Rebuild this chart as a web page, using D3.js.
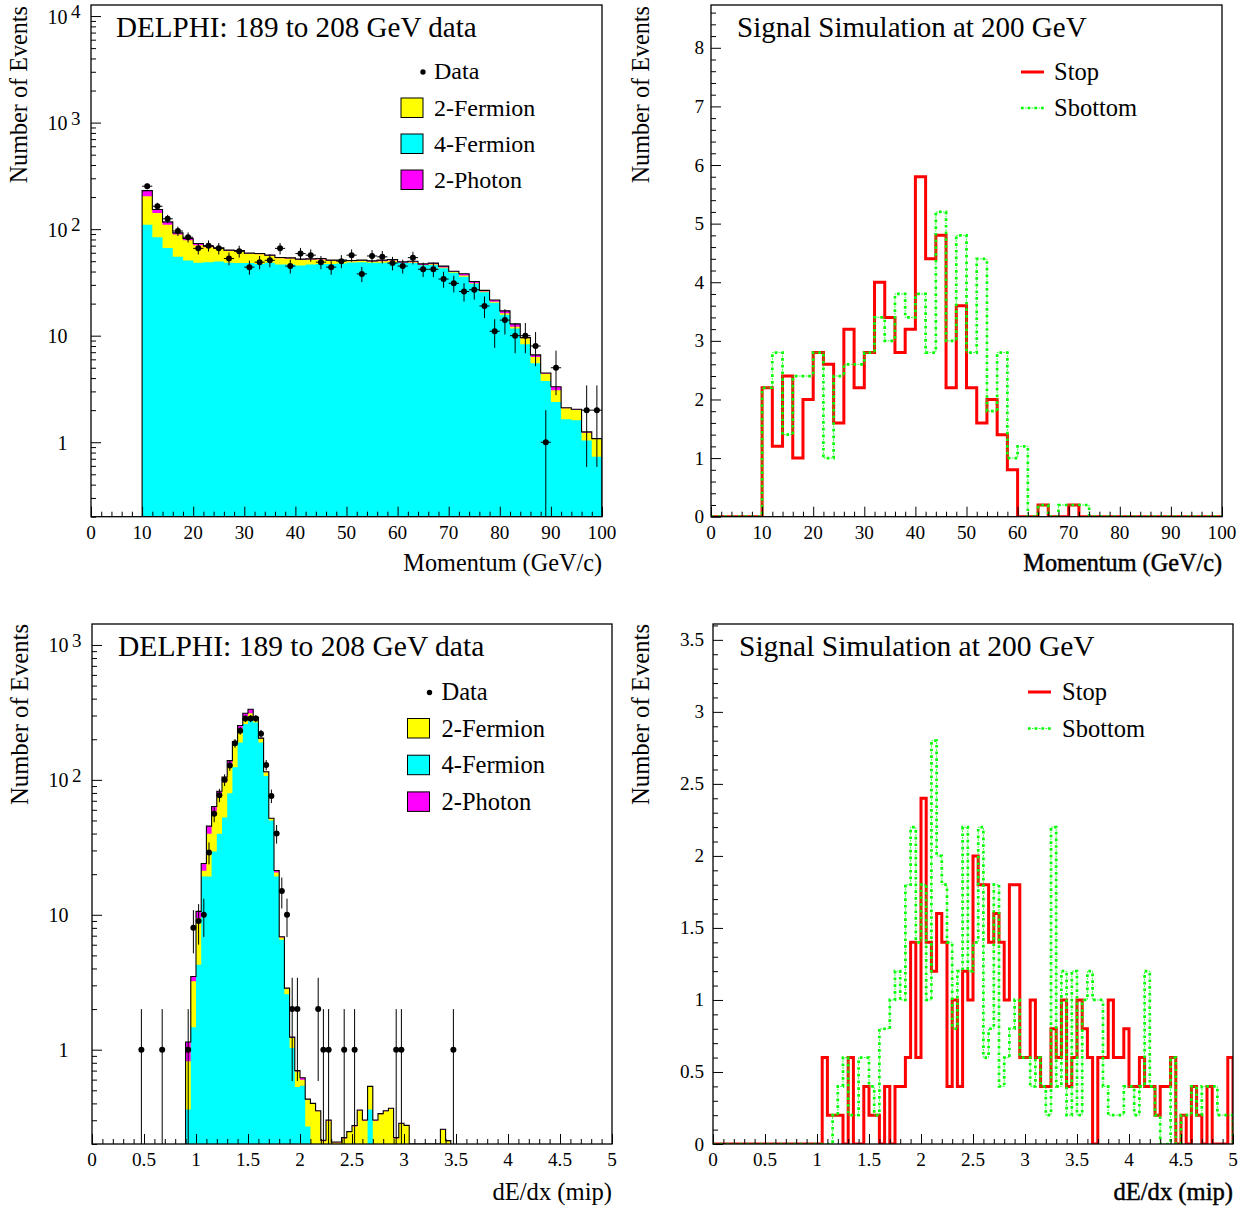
<!DOCTYPE html>
<html>
<head>
<meta charset="utf-8">
<script src="https://cdn.jsdelivr.net/npm/d3@7"></script>
<style>
    html, body { margin: 0; padding: 0; background: white; }
    svg { display: block; }
    text { font-family: "Liberation Serif", serif; fill: black; }
</style>
</head>
<body>
<div id="chart"></div>
<script>
// momentum, background stack (2 GeV bins from 10 GeV), tops of each layer
const momCyan = [110, 84, 66.7, 55, 50.8, 48.3, 49, 49.7, 48.3, 48, 48, 47.2, 48.3, 46.6, 46.6, 45.6, 46.6, 47.2, 47.2, 47.6, 48.6, 49, 48.3,
    48.3, 49, 48.3, 48, 45.9, 46.2, 43, 38.9, 35.7, 30.7, 25.6, 20.4, 15.7, 11.7, 8.3, 5.5, 3.76, 2.39, 1.64, 1.61, 1.04, 0.73];
const momYellow = [204, 142, 110, 89, 78.8, 70.7, 67.7, 65.3, 62.5, 61.7, 58.6, 58.2, 56.1, 53.4, 53, 51.5, 51.9, 51.9, 50.4, 50.4, 50, 50.4, 49.7,
    50, 50.8, 48.3, 49, 46.2, 46.9, 43.7, 39.5, 36.7, 31.1, 26, 20.8, 16.2, 12.1, 9.44, 6.3, 4.4, 3.07, 2.08, 2.01, 1.23, 1.07];
const momTotal = [230, 153, 117, 92.3, 81.6, 73.3, 69.2, 66.7, 63.5, 63, 59.5, 59, 57, 54.2, 53.8, 52.3, 52.6, 53, 51.2, 51.2, 50.8, 51.2, 50.4,
    51.2, 51.9, 49.3, 50, 47.2, 48, 45, 40.3, 38.1, 32.3, 26.6, 21.6, 17.1, 12.9, 9.6, 6.6, 4.47, 3.32, 2.11, 2.04, 1.25, 1.08];
const momCounts = [253, 164, 125, 96, 84, 66, 70, 66, 53, 62, 44, 49, 51, 66, 45, 59, 57, 49, 44, 50, 57, 38, 56,
    55, 48, 45, 54, 42, 42, 34, 31, 26, 27, 19, 11, 14, 10, 10, 8, 1, 5, 0, 0, 2, 2];

// momentum, signal (2 GeV bins from 0)
const stopMom = [0, 0, 0, 0, 0, 2.2, 1.2, 2.4, 1, 2, 2.8, 2.6, 1.6, 3.2, 2.2, 2.8, 4, 3.4, 2.8, 3.2, 5.8, 4.4, 4.8, 2.2, 3.6,
    2.2, 1.6, 2, 1.4, 0.8, 0, 0, 0.2, 0, 0, 0.2, 0, 0, 0, 0, 0, 0, 0, 0, 0, 0, 0, 0, 0, 0];
const sbottomMom = [0, 0, 0, 0, 0, 2.2, 2.8, 1.4, 2.4, 2.4, 2.8, 1, 2.4, 2.6, 2.6, 2.8, 3.4, 3, 3.8, 3.4, 3.8, 2.8, 5.2, 3, 4.8,
    2.8, 4.4, 1.8, 2.8, 1, 1.2, 0, 0.2, 0, 0.2, 0.2, 0.2, 0, 0, 0, 0, 0, 0, 0, 0, 0, 0, 0, 0, 0];

// dE/dx, background stack (0.05 bins from 0.9)
const dedxCyan = [0.36, 1.47, 4.26, 19.2, 19.2, 29.4, 39.8, 52.6, 79.6, 124, 189, 260, 275, 266, 189, 107, 50, 19.2, 6.53, 2.58, 1.03, 0.53, 0.54, 0.27,
    0, 0, 0, 0, 0, 0, 0, 0, 0, 0, 0, 0.36, 0, 0, 0, 0, 0, 0, 0, 0, 0, 0, 0, 0, 0, 0, 0];
const dedxYellow = [0.82, 3.21, 9.45, 21.2, 39.8, 58.9, 77.4, 95.5, 131, 187, 239, 298, 312, 275, 202, 114, 52, 20.6, 6.8, 2.84, 1.22, 0.69, 0.6, 0.43,
    0.395, 0.35, 0.21, 0.298, 0.205, 0.205, 0.22, 0.245, 0.27, 0.354, 0.298, 0.53, 0.298, 0.333, 0.35, 0.365, 0.22, 0.282, 0.272, 0, 0, 0, 0, 0, 0, 0.254, 0.21];
const dedxTotal = [1.14, 3.49, 10.6, 24, 45.4, 63.4, 82.4, 105, 139, 192, 253, 312, 334, 291, 204, 115, 52, 21.3, 6.87, 2.86, 1.24, 0.7, 0.62, 0.43,
    0.4, 0.353, 0.213, 0.301, 0.207, 0.207, 0.223, 0.247, 0.274, 0.357, 0.301, 0.535, 0.301, 0.336, 0.353, 0.368, 0.223, 0.285, 0.275, 0, 0, 0, 0, 0, 0, 0.257, 0.212];
const dedxCenters = [0.475, 0.675, 0.925, 0.975, 1.025, 1.075, 1.125, 1.175, 1.225, 1.275, 1.325, 1.375, 1.425, 1.475, 1.525, 1.575, 1.625, 1.675, 1.725, 1.775, 1.825, 1.875,
    1.925, 1.975, 2.175, 2.225, 2.275, 2.425, 2.525, 2.925, 2.975, 3.475];
const dedxCounts = [1, 1, 1, 8, 9, 10, 29, 56, 77, 100, 128, 187, 231, 285, 285, 285, 220, 129, 76, 40, 15, 10,
    2, 2, 2, 1, 1, 1, 1, 1, 1, 1];

// dE/dx, signal (0.05 bins from 0)
const stopDedx = [0, 0, 0, 0, 0, 0, 0, 0, 0, 0, 0, 0, 0, 0, 0, 0, 0, 0, 0, 0, 0,
    0.6, 0.2, 0.2, 0.2, 0, 0.6, 0, 0, 0.4, 0.2, 0.2, 0, 0.4, 0, 0.4, 0.4, 0.6, 1.4, 0.6,
    2.4, 1.4, 1.2, 1.6, 1.4, 0.4, 1, 0.4, 1.2, 1, 2, 1.8, 1.8, 1.4, 1.6, 1.4, 1, 1.8, 1.8, 0.6,
    0.6, 1, 0.6, 0.4, 0.4, 0.8, 0.6, 1, 0.4, 0.6, 1, 0.8, 0.6, 0, 0.6, 0.6, 1, 0.6, 0.6, 0.8,
    0.4, 0.4, 0.6, 0.4, 0.4, 0.2, 0.4, 0.4, 0.6, 0, 0.2, 0, 0.4, 0.2, 0, 0.4, 0, 0, 0, 0.6];
const sbottomDedx = [0, 0, 0, 0, 0, 0, 0, 0, 0, 0, 0, 0, 0, 0, 0, 0, 0, 0, 0, 0, 0, 0, 0,
    0.2, 0.4, 0.6, 0.2, 0.2, 0.6, 0.6, 0.4, 0.2, 0.8, 0.8, 1, 1.2, 1, 1.8, 2.2, 1.4,
    1.8, 1, 2.8, 2, 1.8, 1.4, 0.8, 1.2, 2.2, 1.2, 1.4, 2.2, 0.6, 0.8, 1.8, 0.4, 0.6, 0.8, 1, 0.6,
    0.6, 0.4, 0.6, 0.4, 0.2, 2.2, 0.4, 1.2, 0.2, 1.2, 0.2, 1, 1.2, 1, 1, 0.4, 0.2, 0.2, 0.2, 0.4,
    0.4, 0.2, 0.4, 1.2, 0.4, 0.2, 0, 0, 0.6, 0, 0.2, 0.2, 0.4, 0.2, 0.4, 0.4, 0.4, 0.2, 0.2, 0.2];

const stackLegend = ['2-Fermion', '4-Fermion', '2-Photon'];
const stackColors = ['#ffff00', '#00ffff', '#ff00ff'];
const signalLegend = ['Stop', 'Sbottom'];
const momTicks = [0, 10, 20, 30, 40, 50, 60, 70, 80, 90, 100];
const dedxTicks = [0, 0.5, 1, 1.5, 2, 2.5, 3, 3.5, 4, 4.5, 5];

const svg = d3.select('#chart').append('svg')
    .attr('width', 1253)
    .attr('height', 1209);

let clipCount = 0;

// bin edges and values -> points for a step line closed down to the floor
function stepPoints(start, width, values, floor) {
    const pts = [[start, floor]];
    values.forEach((v, i) => pts.push([start + i * width, Math.max(v, floor)]));
    pts.push([start + values.length * width, Math.max(values[values.length - 1], floor)]);
    pts.push([start + values.length * width, floor]);
    return pts;
}

function addClip(g, w, h) {
    const id = 'frame' + (++clipCount);
    g.append('clipPath').attr('id', id).append('rect').attr('width', w).attr('height', h);
    return 'url(#' + id + ')';
}

function addTicks(g, x, y, xMajor, xMinor, yMajor, yMinor, w, h) {
    const axes = [
        [d3.axisTop(x).tickValues(xMajor).tickSize(10), `translate(0,${h})`],
        [d3.axisTop(x).tickValues(xMinor).tickSize(5), `translate(0,${h})`],
        [d3.axisRight(y).tickValues(yMajor).tickSize(10), ''],
        [d3.axisRight(y).tickValues(yMinor).tickSize(5), '']
    ];
    axes.forEach(a => {
        const ag = g.append('g').attr('transform', a[1]).call(a[0].tickFormat(''));
        ag.select('.domain').remove();
        ag.selectAll('line').attr('stroke', 'black').attr('stroke-width', 1);
    });
    g.append('rect')
        .attr('width', w).attr('height', h)
        .attr('fill', 'none').attr('stroke', 'black').attr('stroke-width', 1.3);
}

function addXLabels(g, x, h, ticks, size) {
    g.selectAll('.xlab').data(ticks).enter().append('text')
        .attr('class', 'xlab')
        .attr('x', d => x(d)).attr('y', h + 22)
        .attr('text-anchor', 'middle')
        .style('font-size', size + 'px')
        .text(d => d);
}

function addTexts(g, o) {
    g.append('text').attr('x', o.titleX).attr('y', o.titleY)
        .style('font-size', o.titleSize + 'px').text(o.title);
    g.append('text')
        .attr('transform', `translate(${o.yLabelX},${o.yLabelY}) rotate(-90)`)
        .attr('text-anchor', 'end')
        .style('font-size', o.yLabelSize + 'px').text('Number of Events');
    g.append('text').attr('x', o.w).attr('y', o.h + o.xLabelDy)
        .attr('text-anchor', 'end')
        .style('font-size', o.labelSize + 'px')
        .style('stroke', o.heavy ? 'black' : 'none')
        .style('stroke-width', o.heavy ? 0.45 : 0)
        .text(o.xLabel);
}

function drawStack(o) {
    const g = svg.append('g').attr('transform', `translate(${o.left},${o.top})`);
    const x = d3.scaleLinear().domain(o.xDomain).range([0, o.w]);
    const y = d3.scaleLog().domain(o.yDomain).range([o.h, 0]);
    const floor = o.yDomain[0];

    const area = d3.area().curve(d3.curveStepAfter)
        .x(d => x(d[0])).y0(o.h).y1(d => y(d[1]));
    const line = d3.line().curve(d3.curveStepAfter)
        .x(d => x(d[0])).y(d => y(d[1]));

    [[o.total, stackColors[2]], [o.yellow, stackColors[0]], [o.cyan, stackColors[1]]].forEach(s => {
        g.append('path')
            .attr('d', area(stepPoints(o.start, o.binW, s[0], floor)))
            .attr('fill', s[1]);
    });
    g.append('path')
        .attr('d', line(stepPoints(o.start, o.binW, o.total, floor)))
        .attr('clip-path', addClip(g, o.w, o.h))
        .attr('fill', 'none').attr('stroke', 'black').attr('stroke-width', 1.1);

    // data points with sqrt(n) errors
    const pts = o.centers.map((c, i) => ({c: c, n: o.counts[i]})).filter(d => d.n > 0);
    g.selectAll('.errv').data(pts).enter().append('line')
        .attr('x1', d => x(d.c)).attr('x2', d => x(d.c))
        .attr('y1', d => y(Math.max(d.n - Math.sqrt(d.n), floor)))
        .attr('y2', d => y(d.n + Math.sqrt(d.n)))
        .attr('stroke', 'black').attr('stroke-width', 1);
    g.selectAll('.errh').data(pts).enter().append('line')
        .attr('x1', d => x(d.c - o.binW / 2)).attr('x2', d => x(d.c + o.binW / 2))
        .attr('y1', d => y(d.n)).attr('y2', d => y(d.n))
        .attr('stroke', 'black').attr('stroke-width', 1);
    g.selectAll('.pt').data(pts).enter().append('circle')
        .attr('cx', d => x(d.c)).attr('cy', d => y(d.n)).attr('r', 3)
        .attr('fill', 'black');

    // log axis: major at decades, minor at 2..9
    const majors = [], minors = [];
    for (let e = -1; e <= 4; e++) {
        for (let m = 1; m <= 9; m++) {
            const v = m * Math.pow(10, e);
            if (v < o.yDomain[0] || v > o.yDomain[1]) continue;
            (m === 1 ? majors : minors).push(v);
        }
    }
    addTicks(g, x, y, o.xTicks, o.xMinor, majors, minors, o.w, o.h);
    addXLabels(g, x, o.h, o.xTicks, o.tickSize);

    // decade labels, exponent written as raised text beside the 10
    const lab = g.selectAll('.ylab').data(majors).enter().append('g').attr('class', 'ylab')
        .attr('transform', d => `translate(0,${y(d)})`);
    lab.append('text')
        .attr('x', -23.5).attr('y', 7.5)
        .attr('text-anchor', 'end')
        .style('font-size', '20px')
        .text(d => d === 1 ? '1' : '10');
    lab.filter(d => d > 10).append('text')
        .attr('x', -20).attr('y', 2)
        .style('font-size', '19px')
        .text(d => Math.round(Math.log10(d)));

    addTexts(g, o);

    // legend
    const lg = g.append('g').attr('transform', `translate(${o.legX},${o.legY})`);
    lg.append('circle').attr('cx', 22).attr('cy', 0).attr('r', 2.7).attr('fill', 'black');
    lg.append('text').attr('x', o.legTextX).attr('y', 7).style('font-size', o.legSize + 'px').text('Data');
    stackLegend.forEach((name, i) => {
        const yy = 26 + i * o.legStep;
        lg.append('rect').attr('x', 0).attr('y', yy).attr('width', 22).attr('height', 19.5)
            .attr('fill', stackColors[i]).attr('stroke', 'black').attr('stroke-width', 1);
        lg.append('text').attr('x', o.legTextX).attr('y', yy + 18).style('font-size', o.legSize + 'px').text(name);
    });
}

// dotted-dashed green: heavy dots with thin dashes between them
function styleSbottom(sel, heavy) {
    sel.attr('fill', 'none').attr('stroke', '#00ff00');
    if (heavy) {
        sel.attr('stroke-width', 2.7).attr('stroke-dasharray', '2.7,4');
    } else {
        sel.attr('stroke-width', 1).attr('stroke-opacity', 0.75)
            .attr('stroke-dasharray', '2,4.7').attr('stroke-dashoffset', -3.9);
    }
}

function drawSignal(o) {
    const g = svg.append('g').attr('transform', `translate(${o.left},${o.top})`);
    const x = d3.scaleLinear().domain(o.xDomain).range([0, o.w]);
    const y = d3.scaleLinear().domain(o.yDomain).range([o.h, 0]);
    const line = d3.line().curve(d3.curveStepAfter)
        .x(d => x(d[0])).y(d => y(d[1]));
    const clip = addClip(g, o.w, o.h);

    g.append('path')
        .attr('d', line(stepPoints(0, o.binW, o.stop, 0)))
        .attr('clip-path', clip)
        .attr('fill', 'none').attr('stroke', '#ff0000').attr('stroke-width', 3);
    [true, false].forEach(heavy => {
        g.append('path')
            .attr('d', line(stepPoints(0, o.binW, o.sbottom, 0)))
            .attr('clip-path', clip)
            .call(styleSbottom, heavy);
    });

    addTicks(g, x, y, o.xTicks, o.xMinor, o.yTicks, o.yMinor, o.w, o.h);
    addXLabels(g, x, o.h, o.xTicks, o.tickSize);
    g.selectAll('.ylab').data(o.yTicks).enter().append('text')
        .attr('x', o.yTickX).attr('y', d => y(d) + 6.5)
        .attr('text-anchor', 'end')
        .style('font-size', o.tickSize + 'px')
        .text(d => d);

    addTexts(g, o);

    const lg = g.append('g').attr('transform', `translate(${o.legX},${o.legY})`);
    lg.append('line').attr('x1', 0).attr('x2', 23).attr('y1', 0).attr('y2', 0)
        .attr('stroke', '#ff0000').attr('stroke-width', 3);
    [true, false].forEach(heavy => {
        lg.append('line').attr('x1', 0).attr('x2', 23).attr('y1', o.legStep).attr('y2', o.legStep)
            .call(styleSbottom, heavy);
    });
    signalLegend.forEach((name, i) => {
        lg.append('text').attr('x', o.legTextX).attr('y', i * o.legStep + 8)
            .style('font-size', o.legSize + 'px').text(name);
    });
}

const momMinor = d3.range(0, 101, 2).filter(d => d % 10 !== 0);
const dedxMinor = d3.range(0, 51).map(d => d / 10).filter((d, i) => i % 5 !== 0);

drawStack({
    left: 91, top: 5, w: 511, h: 511.7,
    xDomain: [0, 100], yDomain: [0.2, 12700],
    start: 10, binW: 2,
    cyan: momCyan, yellow: momYellow, total: momTotal,
    centers: momCounts.map((d, i) => 11 + 2 * i), counts: momCounts,
    xTicks: momTicks, xMinor: momMinor, tickSize: 19.2,
    title: 'DELPHI: 189 to 208 GeV data', titleX: 25, titleY: 32, titleSize: 29.1,
    xLabel: 'Momentum (GeV/c)', xLabelDy: 54, labelSize: 24.25,
    yLabelX: -64, yLabelY: 1, yLabelSize: 24.2,
    legX: 310, legY: 67, legSize: 24, legTextX: 33, legStep: 36
});

drawSignal({
    left: 711, top: 5, w: 511, h: 511.7,
    xDomain: [0, 100], yDomain: [0, 8.73],
    binW: 2, stop: stopMom, sbottom: sbottomMom,
    xTicks: momTicks, xMinor: momMinor,
    yTicks: d3.range(0, 9), yMinor: d3.range(0, 44).map(d => d / 5).filter((d, i) => i % 5 !== 0),
    tickSize: 19.2, yTickX: -7,
    title: 'Signal Simulation at 200 GeV', titleX: 26, titleY: 32, titleSize: 29,
    xLabel: 'Momentum (GeV/c)', xLabelDy: 54, labelSize: 24.25, heavy: true,
    yLabelX: -62.5, yLabelY: 1, yLabelSize: 24.2,
    legX: 310, legY: 67, legSize: 24.5, legTextX: 33, legStep: 36
});

drawStack({
    left: 92, top: 624, w: 520, h: 520,
    xDomain: [0, 5], yDomain: [0.2, 1430],
    start: 0.9, binW: 0.05,
    cyan: dedxCyan, yellow: dedxYellow, total: dedxTotal,
    centers: dedxCenters, counts: dedxCounts,
    xTicks: dedxTicks, xMinor: dedxMinor, tickSize: 19.2,
    title: 'DELPHI: 189 to 208 GeV data', titleX: 26, titleY: 32, titleSize: 29.55,
    xLabel: 'dE/dx (mip)', xLabelDy: 56, labelSize: 24.6,
    yLabelX: -64, yLabelY: 0, yLabelSize: 24.7,
    legX: 315.5, legY: 68.5, legSize: 24.5, legTextX: 34, legStep: 36.7
});

drawSignal({
    left: 713, top: 624, w: 520, h: 520,
    xDomain: [0, 5], yDomain: [0, 3.61],
    binW: 0.05, stop: stopDedx, sbottom: sbottomDedx,
    xTicks: dedxTicks, xMinor: dedxMinor,
    yTicks: d3.range(0, 8).map(d => d / 2), yMinor: d3.range(0, 37).map(d => d / 10).filter((d, i) => i % 5 !== 0),
    tickSize: 19.2, yTickX: -9,
    title: 'Signal Simulation at 200 GeV', titleX: 26, titleY: 32, titleSize: 29.5,
    xLabel: 'dE/dx (mip)', xLabelDy: 56, labelSize: 24.6, heavy: true,
    yLabelX: -64.5, yLabelY: 0, yLabelSize: 24.7,
    legX: 315, legY: 68, legSize: 24.5, legTextX: 34, legStep: 36.5
});
</script>
</body>
</html>
